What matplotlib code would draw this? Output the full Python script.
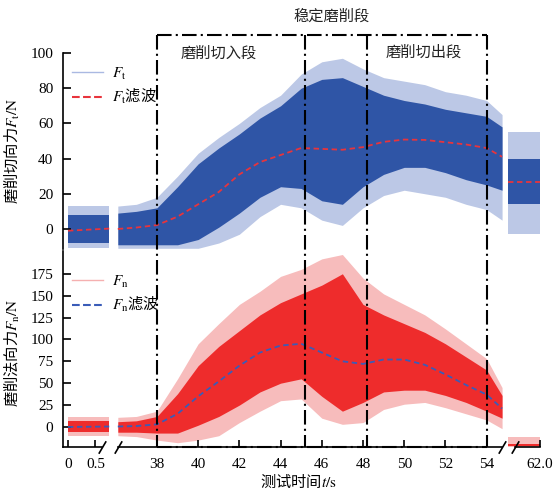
import numpy as np
import matplotlib
matplotlib.use('Agg')
import matplotlib.pyplot as plt
from matplotlib.lines import Line2D
from matplotlib import transforms

plt.rcParams['font.family'] = ['Liberation Serif', 'Noto Sans CJK SC']
plt.rcParams['mathtext.fontset'] = 'stix'
plt.rcParams['axes.unicode_minus'] = False

CJK = 'Noto Sans CJK SC'

# ---- data ----
# segment 1 (0 .. 0.75 s) and segment 3 (60.45 .. 62 s)
t_seg1 = [0.0, 0.75]
t_seg3 = [60.45, 62.0]

ft_seg1_outer = [(-11, 13), (-11, 13)]
ft_seg1_dense = [(-8, 8), (-8, 8)]
ft_seg1_filt = [-1.0, 0.2]
ft_seg3_outer = [(-3, 55), (-3, 55)]
ft_seg3_dense = [(14, 40), (14, 40)]
ft_seg3_filt = [26.5, 26.5]

fn_seg1_outer = [(-10, 11), (-10, 11)]
fn_seg1_dense = [(-6, 7), (-6, 7)]
fn_seg1_filt = [0.0, 0.5]
fn_seg3_outer = [(-22.5, -12), (-22.5, -12)]
fn_seg3_dense = [(-21.5, -19.5), (-21.5, -19.5)]

# segment 2 (grinding)
t_mid = [36.1, 37.0, 38.0, 39.0, 40.0, 41.0, 42.0, 43.0, 44.0, 45.0,
         46.0, 47.0, 48.0, 49.0, 50.0, 51.0, 52.0, 53.0, 54.0, 54.75]

ft_outer_top = [13, 14, 18, 30, 43, 52, 60, 69, 76, 88, 95, 97, 91, 86, 84, 82, 78, 76, 73, 65]
ft_dense_top = [9, 10, 12, 24, 37, 46, 54, 63, 70, 80, 85, 86, 81, 76, 73, 71, 68, 66, 64, 58]
ft_dense_bot = [-9, -9, -9, -9, -6, 1, 9, 18, 24, 23, 16, 14, 24, 31, 35, 35, 32, 28, 25, 22]
ft_outer_bot = [-11, -11, -11, -11, -11, -8, -3, 7, 14, 12, 5, 2, 12, 19, 22, 20, 18, 14, 11, 5]
ft_filt = [0.0, 0.8, 2.2, 7, 14, 21, 31, 38, 42, 46, 45.5, 45, 46.5, 49.5, 50.8, 50.6, 49.3, 48, 46, 41]

fn_outer_top = [11, 12, 18, 55, 95, 118, 140, 155, 172, 180, 192, 197, 170, 152, 140, 128, 112, 95, 78, 45]
fn_dense_top = [6, 7, 12, 38, 70, 92, 110, 128, 142, 152, 162, 175, 140, 128, 118, 108, 95, 80, 65, 36]
fn_dense_bot = [-6, -6, -7, -7, 2, 12, 25, 40, 50, 55, 35, 18, 28, 40, 42, 42, 36, 28, 18, 10]
fn_outer_bot = [-10, -11, -15, -18, -15, -10, 5, 18, 30, 32, 10, 3, 5, 20, 26, 28, 22, 15, 8, -2]
fn_filt = [0.5, 1, 3, 15, 35, 52, 70, 85, 93, 95, 85, 75, 72, 77, 77, 71, 60, 48, 37, 21]

xticks = [0, 0.5, 38, 40, 42, 44, 46, 48, 50, 52, 54, 62]
xticklabels = ['0', '0.5', '38', '40', '42', '44', '46', '48', '50', '52', '54', '62.0']

stage_lines = [38.0, 45.2, 48.2, 54.0]

# broken time axis: piecewise linear scale
T_NODES = [-1.0, 0.75, 36.0, 54.8, 60.45, 62.0, 63.0]
U_NODES = [13.0, 109.25, 115.8, 503.1, 508.1, 540.0, 560.6]


def forward(t):
    return np.interp(t, T_NODES, U_NODES)


def inverse(u):
    return np.interp(u, U_NODES, T_NODES)


fig = plt.figure(figsize=(5.56, 4.96), dpi=100)
W, H = 556, 496
ax1 = fig.add_axes([63 / W, 1 - 249 / H, 477 / W, 196 / H])
ax2 = fig.add_axes([63 / W, 1 - 447 / H, 477 / W, 196 / H])

blue = '#2f55a6'
blue_light = '#bcc8e6'
red = '#ee2c2c'
red_light = '#f7bcbc'


def draw_band(ax, t, outer, dense, c_light, c_dense):
    outer = np.array(outer, dtype=float)
    dense = np.array(dense, dtype=float)
    ax.fill_between(t, outer[:, 0], outer[:, 1], color=c_light, lw=0)
    ax.fill_between(t, dense[:, 0], dense[:, 1], color=c_dense, lw=0)


for ax in (ax1, ax2):
    ax.set_xscale('function', functions=(forward, inverse))

# upper panel: tangential force
draw_band(ax1, t_seg1, ft_seg1_outer, ft_seg1_dense, blue_light, blue)
draw_band(ax1, t_mid, list(zip(ft_outer_bot, ft_outer_top)),
          list(zip(ft_dense_bot, ft_dense_top)), blue_light, blue)
draw_band(ax1, t_seg3, ft_seg3_outer, ft_seg3_dense, blue_light, blue)
ax1.plot(t_seg1, ft_seg1_filt, '--', color='#e8343c', lw=1.3, dashes=(3, 2))
ax1.plot(t_mid, ft_filt, '--', color='#e8343c', lw=1.3, dashes=(3, 2))
ax1.plot(t_seg3, ft_seg3_filt, '--', color='#e8343c', lw=1.3, dashes=(3, 2))

# lower panel: normal force
draw_band(ax2, t_seg1, fn_seg1_outer, fn_seg1_dense, red_light, red)
draw_band(ax2, t_mid, list(zip(fn_outer_bot, fn_outer_top)),
          list(zip(fn_dense_bot, fn_dense_top)), red_light, red)
draw_band(ax2, t_seg3, fn_seg3_outer, fn_seg3_dense, red_light, red)
ax2.plot(t_seg1, fn_seg1_filt, '--', color='#3a5cb8', lw=1.3, dashes=(3, 2))
ax2.plot(t_mid, fn_filt, '--', color='#3a5cb8', lw=1.3, dashes=(3, 2))

for ax in (ax1, ax2):
    ax.set_xlim(-0.09, 62.0)
    ax.spines['top'].set_visible(False)
    ax.spines['right'].set_visible(False)
    ax.spines['bottom'].set_visible(False)
    ax.spines['left'].set_linewidth(1.2)
    ax.tick_params(axis='y', direction='in', length=6, width=1.2, pad=7, labelsize=11)
    ax.set_xticks(xticks)

ax1.set_ylim(-11.4, 100)
ax1.set_yticks([0, 20, 40, 60, 80, 100])
ax1.tick_params(axis='x', bottom=False, labelbottom=False)

ax2.set_ylim(-22.9, 201)
ax2.set_yticks([0, 25, 50, 75, 100, 125, 150, 175])
ax2.set_xticklabels(xticklabels)
ax2.tick_params(axis='x', direction='in', length=5, width=1.2, pad=8, labelsize=11)

# broken bottom spine with // marks
xt = ax2.get_xaxis_transform()
for a, b in [(-0.09, 0.62), (36.1, 54.75), (60.8, 62.0)]:
    ax2.plot([a, b], [0, 0], color='black', lw=1.2, transform=xt, clip_on=False)
ax2.plot([0.62, 36.1, 54.75, 60.8], [0, 0, 0, 0], ls='none', transform=xt, clip_on=False,
         marker=[(-1, -1.7), (1, 1.7)], markersize=9, mec='black', mew=1.2)

# legends
ax1.legend([Line2D([], [], color='#aab9e2', lw=1), Line2D([], [], color='#e8343c', lw=1.5, ls='--')],
           [r'$F_\mathrm{t}$', r'$F_\mathrm{t}$滤波'], loc='upper left', bbox_to_anchor=(-0.01, 1.01),
           frameon=False, prop={'family': CJK, 'size': 11}, handlelength=2.0,
           labelspacing=0.35, handletextpad=0.6)
ax2.legend([Line2D([], [], color='#f5b0b0', lw=1), Line2D([], [], color='#3a5cb8', lw=1.5, ls='--')],
           [r'$F_\mathrm{n}$', r'$F_\mathrm{n}$滤波'], loc='upper left', bbox_to_anchor=(-0.01, 0.96),
           frameon=False, prop={'family': CJK, 'size': 11}, handlelength=2.0,
           labelspacing=0.35, handletextpad=0.6)

# axis labels
ax1.set_ylabel(r'磨削切向力$F_\mathrm{t}/\mathrm{N}$', family=CJK, fontsize=11)
ax1.yaxis.set_label_coords(-0.085, 0.5)
ax2.set_ylabel(r'磨削法向力$F_\mathrm{n}/\mathrm{N}$', family=CJK, fontsize=11)
ax2.yaxis.set_label_coords(-0.085, 0.48)
fig.text(298 / W, 1 - 482 / H, r'测试时间$t/\mathrm{s}$', family=CJK, fontsize=11,
         ha='center', va='center')

# stage boxes (dash-dot) spanning both panels
bt = transforms.blended_transform_factory(ax2.transData, fig.transFigure)
y_top = 1 - 35 / H
y_bot = 1 - 447 / H
dd = (0, (7, 2, 1, 2))
for xs in stage_lines:
    fig.add_artist(Line2D([xs, xs], [y_top, y_bot], transform=bt, color='black', lw=1.5, ls=dd))
fig.add_artist(Line2D([stage_lines[0], stage_lines[-1]], [y_top, y_top], transform=bt,
                      color='black', lw=1.5, ls=dd))
fig.add_artist(Line2D([stage_lines[0], stage_lines[-1]], [y_bot, y_bot], transform=bt,
                      color='black', lw=1.5, ls=dd))

fig.text(41.0, 1 - 53 / H, '磨削切入段', transform=bt, family=CJK, fontsize=11,
         ha='center', va='center', color='#222222')
fig.text(50.96, 1 - 52 / H, '磨削切出段', transform=bt, family=CJK, fontsize=11,
         ha='center', va='center', color='#222222')
fig.text(46.5, 1 - 16 / H, '稳定磨削段', transform=bt, family=CJK, fontsize=11,
         ha='center', va='center', color='#222222')

fig.savefig('out.png', dpi=100)
